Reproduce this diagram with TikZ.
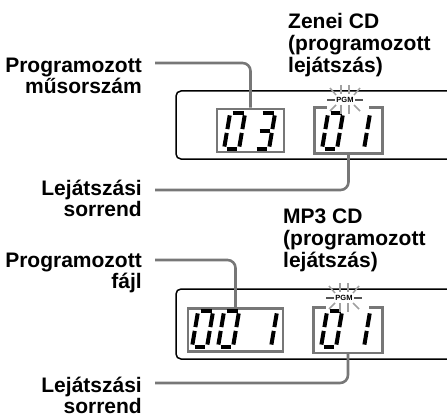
\documentclass[tikz,border=0pt]{standalone}
\usepackage{fontspec}
\setmainfont{Liberation Sans}
\definecolor{wire}{HTML}{777777}
\definecolor{glow}{HTML}{A0A0A0}
\definecolor{tick}{HTML}{555555}

% one slanted seven-segment digit: x, y of its lower left corner, list of segments
% 0 top, 1 upper right, 2 lower right, 3 bottom, 4 lower left, 5 upper left, 6 middle
\newcommand\lcddigit[3]{%
  \begin{scope}[shift={(#1,#2)},x=1pt,y=1pt,xslant=.17]
    \foreach \sg in {#3}{%
      \ifcase\sg\relax
        \draw[seg] (2.6,36)--(13.4,36);
      \or \draw[seg] (15,33.6)--(15,19.9);
      \or \draw[seg] (15,16.1)--(15,2.4);
      \or \draw[seg] (2.6,0)--(13.4,0);
      \or \draw[seg] (0,2.4)--(0,16.1);
      \or \draw[seg] (0,19.9)--(0,33.6);
      \or \draw[seg] (2.6,18)--(13.4,18);
      \fi}
  \end{scope}}

\begin{document}
\begin{tikzpicture}[x=1pt,y=-1pt,
  lbl/.style={font=\fontsize{21}{21}\selectfont\bfseries,inner sep=0pt,align=right,anchor=base east},
  ttl/.style={font=\fontsize{21}{22}\selectfont\bfseries,inner sep=0pt,align=left,anchor=base west},
  digbox/.style={line width=2.6pt,minimum height=43pt,inner sep=0pt},
  lead/.style={draw=wire,line width=2.6pt,rounded corners=8pt},
  seg/.style={line width=4pt},
  panel/.style={line width=1.5pt,rounded corners=5pt},
  ray/.style={glow,line width=1.5pt},
  pgmtag/.style={font=\fontsize{7.5}{7.5}\selectfont\bfseries,inner sep=0pt}]
  \useasboundingbox (0,0) rectangle (447,417);

  % --- Zenei CD ---
  \node[ttl] (t1) at (288,73) {Zenei CD\\(programozott\\lejátszás)};
  \node[lbl] (l1) at (142,94) {Programozott\\műsorszám};
  \node[lbl] (l2) at (142,216) {Lejátszási\\sorrend};
  \draw[panel] (450,91) -| (176,159) -- (450,159);
  \node[digbox,draw=wire,minimum width=67pt] (b1) at (250.5,130.5) {};
  \node[digbox,minimum width=65pt] (b2) at (348.5,130.5) {};
  \draw[wire,line width=2.6pt] ([xshift=12pt]b2.north west) -- (b2.north west)
    -- (b2.south west) -- (b2.south east) -- (b2.north east) -- ([xshift=-13pt]b2.north east);
  \lcddigit{224}{149}{0,1,2,3,4,5}
  \lcddigit{254}{149}{0,1,2,3,6}
  \lcddigit{322}{149}{0,1,2,3,4,5}
  \lcddigit{349}{149}{1,2}
  \node[pgmtag] (pgm1) at (345,100) {PGM};
  \coordinate (a1) at (155,63);
  \coordinate (a2) at (155,190);
  \draw[lead] (a1) -| (b1.north);
  \draw[lead] (b2.south) |- (a2);

  % --- MP3 CD ---
  \node[ttl] (t2) at (283,267) {MP3 CD\\(programozott\\lejátszás)};
  \node[lbl] (l3) at (142,288) {Programozott\\fájl};
  \node[lbl] (l4) at (142,413) {Lejátszási\\sorrend};
  \draw[panel] (450,289) -| (176,359) -- (450,359);
  \node[digbox,draw=wire,minimum width=95pt] (b3) at (235.5,330) {};
  \node[digbox,minimum width=66pt] (b4) at (348,330) {};
  \draw[wire,line width=2.6pt] ([xshift=12pt]b4.north west) -- (b4.north west)
    -- (b4.south west) -- (b4.south east) -- (b4.north east) -- ([xshift=-13pt]b4.north east);
  \lcddigit{192}{347}{0,1,2,3,4,5}
  \lcddigit{218}{347}{0,1,2,3,4,5}
  \lcddigit{256}{347}{1,2}
  \lcddigit{321}{347}{0,1,2,3,4,5}
  \lcddigit{349}{347}{1,2}
  \node[pgmtag] (pgm2) at (344,298) {PGM};
  \coordinate (a3) at (155,260);
  \coordinate (a4) at (155,383);
  \draw[lead] (a3) -| (b3.north);
  \draw[lead] (b4.south) |- (a4);

  % blinking rays round PGM
  \foreach \pg in {pgm1,pgm2}{
    \foreach \a/\b/\c/\d in {-4/-6/-4/-15,4/-6/4/-15,-9/-5/-15/-12,9/-5/15/-12,
                             -4/5/-4/14,4/5/4/14,-9/5/-15/11,9/5/15/11}
      \draw[ray] ([shift={(\a,\b)}]\pg.center) -- ([shift={(\c,\d)}]\pg.center);
    \draw[tick,line width=1.4pt] ([xshift=-10pt]\pg.center) -- ([xshift=-18pt]\pg.center);
    \draw[tick,line width=1.4pt] ([xshift=10pt]\pg.center) -- ([xshift=18pt]\pg.center);
  }
\end{tikzpicture}
\end{document}
